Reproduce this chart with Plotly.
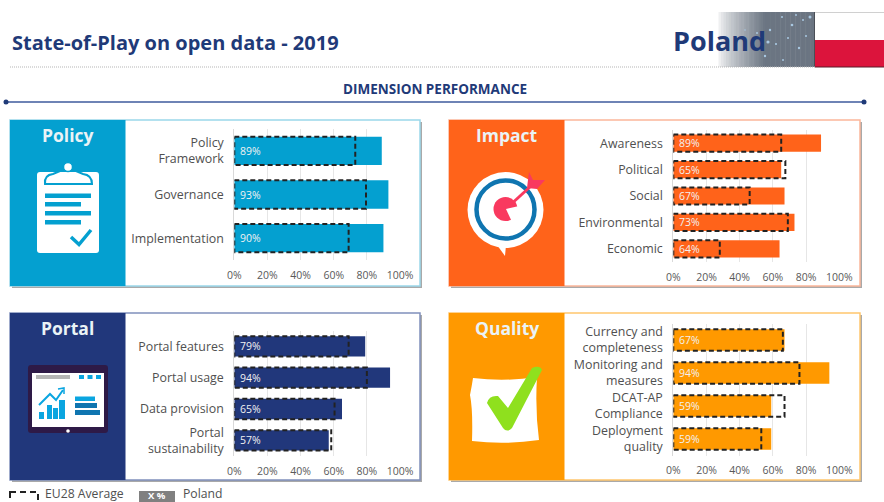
import plotly.graph_objects as go

W, H = 884, 502
FONT = "Open Sans"

policy_categories = ["Policy<br>Framework", "Governance", "Implementation"]
policy_poland = [89, 93, 90]
policy_eu28 = [73, 79.5, 69]

impact_categories = ["Awareness", "Political", "Social", "Environmental", "Economic"]
impact_poland = [89, 65, 67, 73, 64]
impact_eu28 = [65, 67.5, 46, 69, 28]

portal_categories = ["Portal features", "Portal usage", "Data provision", "Portal<br>sustainability"]
portal_poland = [79, 94, 65, 57]
portal_eu28 = [69, 80, 60.5, 58.5]

quality_categories = ["Currency and<br>completeness", "Monitoring and<br>measures", "DCAT-AP<br>Compliance", "Deployment<br>quality"]
quality_poland = [67, 94, 59, 59]
quality_eu28 = [66, 76, 67, 53]

x_tick_values = [0, 20, 40, 60, 80, 100]
x_tick_labels = ["0%", "20%", "40%", "60%", "80%", "100%"]

POLICY, IMPACT, PORTAL, QUALITY = "#04A0D0", "#FF631A", "#21377B", "#FF9900"
NAVY = "#1F3A78"


def X(p):
    return p / W


def Y(p):
    return 1 - p / H


def pth(cmds):
    out = []
    for c in cmds:
        if c[0] == "Z":
            out.append("Z")
        else:
            vals = c[1:]
            coords = []
            for i in range(0, len(vals), 2):
                coords.append(f"{X(vals[i]):.5f},{Y(vals[i + 1]):.5f}")
            out.append(c[0] + " " + " ".join(coords))
    return " ".join(out)


shapes = []


def rect(x0, y0, x1, y1, fill, line=None, lw=0, layer="below", dash=None):
    ln = dict(width=lw, color=line or fill)
    if dash:
        ln["dash"] = dash
    shapes.append(dict(type="rect", xref="paper", yref="paper", x0=X(x0), x1=X(x1), y0=Y(y0), y1=Y(y1),
                       fillcolor=fill, line=ln, layer=layer))


def circ(cx, cy, r, fill, line=None, lw=0):
    shapes.append(dict(type="circle", xref="paper", yref="paper", x0=X(cx - r), x1=X(cx + r),
                       y0=Y(cy + r), y1=Y(cy - r), fillcolor=fill,
                       line=dict(width=lw, color=line or fill), layer="below"))


def path(cmds, fill="rgba(0,0,0,0)", line=None, lw=0):
    shapes.append(dict(type="path", xref="paper", yref="paper", path=pth(cmds), fillcolor=fill,
                       line=dict(width=lw, color=line or "rgba(0,0,0,0)"), layer="below"))


fig = go.Figure()
annotations = []


def text(px, py, s, size, color, bold=False, anchor="center"):
    annotations.append(dict(xref="paper", yref="paper", x=X(px), y=Y(py), text=f"<b>{s}</b>" if bold else s,
                            showarrow=False, xanchor=anchor, yanchor="middle", align="center",
                            font=dict(family=FONT, size=size, color=color)))


def panel(x0, y0, x1, y1, split, color, border, title):
    rect(x0 + 2, y0 + 2, x1 + 2, y1 + 2, "#A9A9A9")
    rect(x0, y0, x1, y1, "#FFFFFF", border, 1.5)
    rect(x0, y0, split, y1, color)
    text((x0 + split) / 2, y0 + 14.5, title, 17.5, "#EAF3F6", True)


def chart(idx, categories, poland, eu28, color, left, right, top, bottom):
    ax = "" if idx == 1 else str(idx)
    positions = list(range(len(categories)))
    half = 0.325
    fig.add_trace(go.Bar(x=poland, y=positions, orientation="h", width=half * 2, marker=dict(color=color, line=dict(width=0)),
                         text=[f"\u00a0{v}%" for v in poland], textposition="inside", insidetextanchor="start",
                         textangle=0, constraintext="none", cliponaxis=False,
                         textfont=dict(family=FONT, size=10.5, color="#F2F2F2"), name="Poland",
                         xaxis=f"x{ax}", yaxis=f"y{ax}", showlegend=False))
    for p, v in zip(positions, eu28):
        fig.add_trace(go.Scatter(x=[0, v, v, 0, 0], y=[p - half, p - half, p + half, p + half, p - half],
                                 mode="lines", line=dict(color="#222222", width=2, dash="5px,3px"),
                                 name="EU28 Average", xaxis=f"x{ax}", yaxis=f"y{ax}", showlegend=False,
                                 cliponaxis=False))
    fig.update_layout({
        f"xaxis{ax}": dict(domain=[X(left), X(right)], range=[0, 100], tickvals=x_tick_values, ticktext=x_tick_labels,
                           showgrid=True, gridcolor="#E6E6E6", gridwidth=1, zeroline=False, showline=False,
                           ticks="", anchor=f"y{ax}", ticklabelstandoff=7, automargin=False,
                           tickfont=dict(family=FONT, size=10.5, color="#595959"), fixedrange=True),
        f"yaxis{ax}": dict(domain=[Y(bottom), Y(top)], range=[len(categories) - 0.5, -0.5], tickvals=positions,
                           ticktext=categories, showgrid=False, zeroline=False, showline=True, linecolor="#D9D9D9",
                           linewidth=1, ticks="", anchor=f"x{ax}", ticklabelstandoff=7, automargin=False,
                           tickfont=dict(family=FONT, size=12.4, color="#505050"), fixedrange=True),
    })


# ---------- header ----------
steps = 40
for i in range(steps):
    t = min(1, i / (steps - 1) * 2)
    r = int(255 + (107 - 255) * t ** 0.75)
    g = int(255 + (117 - 255) * t ** 0.75)
    b = int(255 + (130 - 255) * t ** 0.75)
    xa = 716 + (815 - 716) * i / steps
    xb = 716 + (815 - 716) * (i + 1) / steps + 0.5
    rect(xa, 12, xb, 67, f"rgb({r},{g},{b})")
for sx, sy, sr in [(757, 33, 1), (770, 30, 1.2), (782, 17, 1), (792, 25, 1.3), (803, 20, 1), (776, 44, 1.1), (788, 38, 1),
                   (799, 48, 1.2), (765, 56, 1.2), (783, 60, 1), (806, 36, 1), (796, 15, 0.9), (810, 17, 1.5), (745, 30, 0.8), (768, 42, 1.6)]:
    circ(sx, sy, sr, "#A9C8E2")
rect(815, 12, 884, 40, "#FFFFFF")
rect(815, 40, 884, 67, "#DC143C")
shapes.append(dict(type="line", xref="paper", yref="paper", x0=X(815), x1=X(884), y0=Y(12.5), y1=Y(12.5),
                   line=dict(color="#D0D0D0", width=1), layer="below"))
shapes.append(dict(type="line", xref="paper", yref="paper", x0=X(814.5), x1=X(814.5), y0=Y(12), y1=Y(67),
                   line=dict(color="#4A4F57", width=1), layer="below"))
shapes.append(dict(type="line", xref="paper", yref="paper", x0=X(815), x1=X(884), y0=Y(67), y1=Y(67),
                   line=dict(color="#5A1A28", width=1), layer="below"))
shapes.append(dict(type="line", xref="paper", yref="paper", x0=X(10), x1=X(815), y0=Y(67), y1=Y(67),
                   line=dict(color="#B5B5B5", width=1, dash="1px,1px"), layer="below"))
shapes.append(dict(type="line", xref="paper", yref="paper", x0=X(6), x1=X(864), y0=Y(102), y1=Y(102),
                   line=dict(color="#6E83B5", width=2), layer="below"))
circ(6, 102, 2.5, NAVY)
circ(864, 102, 2.5, NAVY)
text(10, 42, "State-of-Play on open data - 2019", 20, NAVY, True, "left")
text(719, 40, "Poland", 27, NAVY, True)
text(435, 89, "DIMENSION PERFORMANCE", 13.5, NAVY, True)

# ---------- panels ----------
panel(10, 120, 420, 286, 125.5, POLICY, "#9AD7EA", "Policy")
panel(449, 120, 860, 286, 564.5, IMPACT, "#FBB79A", "Impact")
panel(10, 313, 420, 480, 125.5, PORTAL, "#8090BC", "Portal")
panel(449, 313, 860, 480, 564.5, QUALITY, "#FFC66E", "Quality")

chart(1, policy_categories, policy_poland, policy_eu28, POLICY, 234.3, 400, 129, 260)
chart(2, impact_categories, impact_poland, impact_eu28, IMPACT, 673.3, 839.3, 130, 262)
chart(3, portal_categories, portal_poland, portal_eu28, PORTAL, 234.3, 400, 330.7, 456)
chart(4, quality_categories, quality_poland, quality_eu28, QUALITY, 673.3, 839.3, 323.5, 455.5)

# ---------- policy icon ----------
path([("M", 40, 172), ("L", 96, 172), ("Q", 99, 172, 99, 175), ("L", 99, 250), ("Q", 99, 253, 96, 253),
      ("L", 40, 253), ("Q", 37, 253, 37, 250), ("L", 37, 175), ("Q", 37, 172, 40, 172), ("Z",)], "#FFFFFF")
path([("M", 45, 184), ("Q", 44, 175, 53, 174), ("L", 60, 171), ("L", 76, 171), ("L", 83, 174), ("Q", 92, 175, 92, 184), ("Z",)],
     "#FFFFFF", POLICY, 2)
circ(68, 167, 4.5, "#FFFFFF", POLICY, 1.5)
for y0, x1 in [(193.5, 91), (202, 81), (211, 91), (220, 81)]:
    rect(45, y0, x1, y0 + 4.5, POLICY)
path([("M", 71, 237), ("L", 79, 244.5), ("L", 91, 230)], line=POLICY, lw=3.5)

# ---------- impact icon ----------
path([("M", 497, 245), ("L", 505, 256), ("L", 506, 245), ("Z",)], "#FFFFFF")
circ(505.5, 210, 38, "#FFFFFF")
circ(505.5, 209.5, 29, "#FFFFFF", "#0F75B0", 4.5)
circ(505.5, 209, 12, "#F9395F")
path([("M", 506, 209), ("L", 519, 206), ("L", 519, 216), ("L", 512, 222), ("Z",)], "#FFFFFF")
path([("M", 514, 201.5), ("L", 531, 186)], line="#F9395F", lw=3)
path([("M", 527, 188), ("L", 529, 172), ("L", 533, 180), ("L", 545, 180), ("L", 537, 189), ("Z",)], "#F9395F")

# ---------- portal icon ----------
path([("M", 31, 365), ("L", 105, 365), ("Q", 108, 365, 108, 368), ("L", 108, 430), ("Q", 108, 433, 105, 433),
      ("L", 31, 433), ("Q", 28, 433, 28, 430), ("L", 28, 368), ("Q", 28, 365, 31, 365), ("Z",)], "#2E1A47")
rect(32, 373, 104, 427, "#FFFFFF")
circ(68, 431, 1.8, "#FFFFFF")
rect(36, 375, 70, 379, "#B5B5B5")
for sx in [79, 87.5, 96]:
    rect(sx, 375, sx + 5, 379, "#0AA5E0")
for xa, xb, ya in [(39, 44, 412), (47, 52, 405), (53, 58, 408), (59, 65, 400)]:
    rect(xa, ya, xb, 419, "#0AA5E0")
path([("M", 39, 405), ("L", 50, 394), ("L", 56, 400), ("L", 63, 390)], line="#0AA5E0", lw=2)
path([("M", 58, 389), ("L", 64, 388), ("L", 64, 394)], line="#0AA5E0", lw=1.5)
rect(75, 396.5, 95, 401, "#0AA5E0")
rect(75, 403, 97, 408, "#0F75B0")
rect(75, 410, 100, 415, "#0F75B0")

# ---------- quality icon ----------
path([("M", 473, 378), ("Q", 505, 382, 537, 377), ("Q", 535, 410, 539, 440), ("Q", 505, 445, 472, 441),
      ("Q", 473, 410, 470, 395), ("Q", 472, 385, 473, 378), ("Z",)], "#FFFFFF")
path([("M", 487, 403), ("Q", 489, 395, 498, 396), ("L", 508, 408), ("L", 532, 368), ("Q", 540, 365, 542, 370),
      ("L", 512, 428), ("Q", 507, 433, 503, 428), ("Z",)], "#8FE01E")

# ---------- legend ----------
rect(10, 492, 38, 507, "rgba(0,0,0,0)", "#222222", 2, dash="6px,4px")
text(43, 493.5, "EU28 Average", 12.2, "#505050", False, "left")
rect(139, 491, 175, 503, "#808080")
text(157, 495.5, "X %", 9.5, "#FFFFFF", True)
text(181, 493.5, "Poland", 12.2, "#505050", False, "left")

fig.update_layout(width=W, height=H, margin=dict(l=0, r=0, t=0, b=0), paper_bgcolor="#FFFFFF",
                  plot_bgcolor="rgba(0,0,0,0)", barmode="overlay", showlegend=False,
                  shapes=shapes, annotations=annotations, font=dict(family=FONT))

fig.write_html("out.html", config={"displayModeBar": False},
               post_script="document.body.style.margin='0';document.body.style.overflow='hidden';")
